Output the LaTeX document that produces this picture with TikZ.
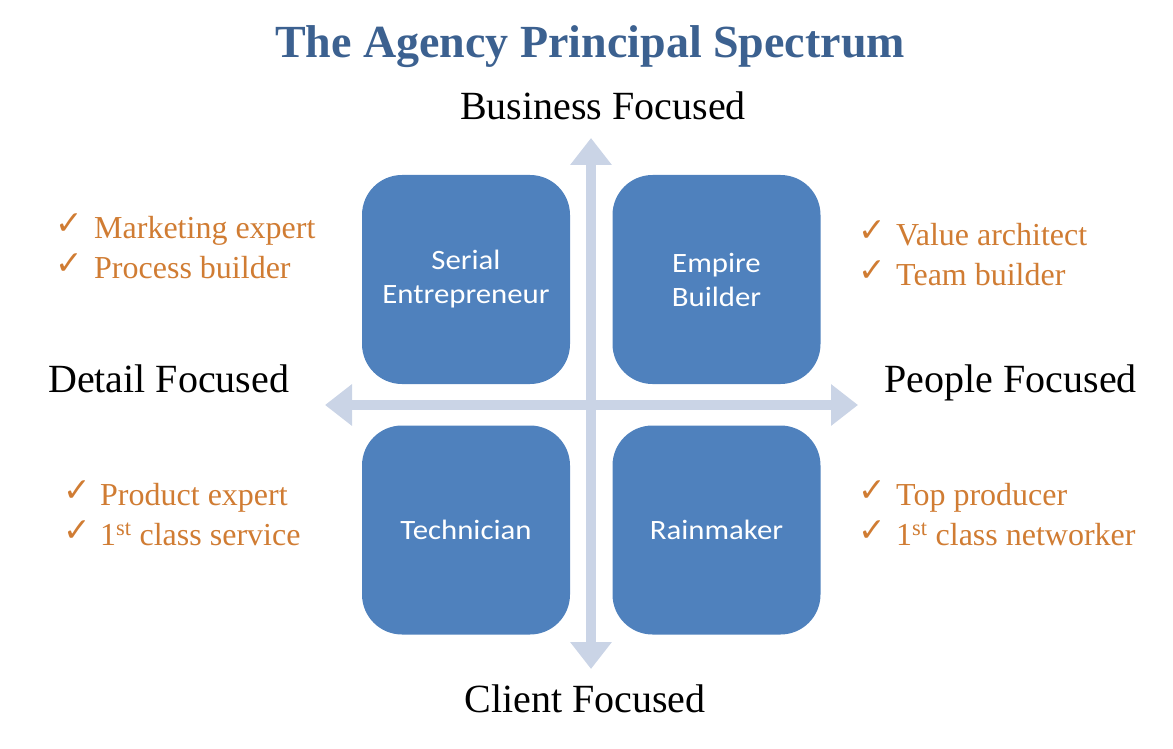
\documentclass[tikz,border=0pt]{standalone}
\usepackage{fontspec}
\setmainfont{Liberation Serif}
\newfontfamily\boxfont[FakeStretch=1.1]{Carlito}
\newfontfamily\checkfont{DejaVu Sans}
\usetikzlibrary{arrows.meta}
\definecolor{titleblue}{HTML}{3C6190}
\definecolor{boxblue}{HTML}{4F81BD}
\definecolor{axisblue}{HTML}{CAD4E6}
\definecolor{listorange}{HTML}{D07C33}
\begin{document}
\begin{tikzpicture}[x=1pt,y=-1pt,
  quad/.style={draw=none, fill=boxblue, rounded corners=40pt, minimum width=208pt,
    minimum height=209pt, inner sep=0pt, text=white, align=center,
    font=\boxfont\fontsize{28}{34}\selectfont},
  axislabel/.style={inner sep=0pt, font=\fontsize{40}{48}\selectfont},
  item/.style={anchor=base west, inner sep=0pt, text=listorange, font=\fontsize{32}{38}\selectfont},
  tick/.style={anchor=base west, inner sep=0pt, text=listorange, font=\checkfont\fontsize{33}{38}\selectfont},
  axisarrow/.style={draw=axisblue, line width=10pt,
    arrows={Triangle[width=40pt,length=27pt]-Triangle[width=40pt,length=27pt]}}]
\useasboundingbox (0,0) rectangle (1173,749);

% title
\node[inner sep=0pt, anchor=base, text=titleblue, font=\bfseries\fontsize{46}{52}\selectfont]
  (title) at (590,58) {The Agency Principal Spectrum};

% axes
\coordinate (vt) at (591,138);
\coordinate (vb) at (591,669);
\coordinate (hl) at (325,405);
\coordinate (hr) at (858,405);
\draw[axisarrow] (vb) -- (vt);
\draw[axisarrow] (hl) -- (hr);

% quadrants
\node[quad] (se) at (466,279.5) {Serial\\Entrepreneur};
\node[quad] (eb) at (716.5,279.5) {Empire\\Builder};
\node[quad] (te) at (466,530) {Technician};
\node[quad] (rm) at (716.5,530) {Rainmaker};

% axis labels
\node[axislabel, anchor=base] (bf) at (603,120) {Business Focused};
\node[axislabel, anchor=base] (cf) at (585,712) {Client Focused};
\node[axislabel, anchor=base west] (df) at (48,392) {Detail Focused};
\node[axislabel, anchor=base east] (pf) at (1137,392) {People Focused};

% left top list
\node[tick] (c1) at (55,234) {✓};
\node[item] (t1) at (94,238) {Marketing expert};
\node[tick] (c2) at (55,274) {✓};
\node[item] (t2) at (94,278) {Process builder};

% right top list
\node[tick] (c3) at (858,241) {✓};
\node[item] (t3) at (896,245) {Value architect};
\node[tick] (c4) at (858,281) {✓};
\node[item] (t4) at (896,285) {Team builder};

% left bottom list
\node[tick] (c5) at (63,501) {✓};
\node[item] (t5) at (100,505) {Product expert};
\node[tick] (c6) at (63,541) {✓};
\node[item] (t6) at (100,545) {1\textsuperscript{st} class service};

% right bottom list
\node[tick] (c7) at (858,501) {✓};
\node[item] (t7) at (896,505) {Top producer};
\node[tick] (c8) at (858,541) {✓};
\node[item] (t8) at (896,545) {1\textsuperscript{st} class networker};
\end{tikzpicture}
\end{document}
